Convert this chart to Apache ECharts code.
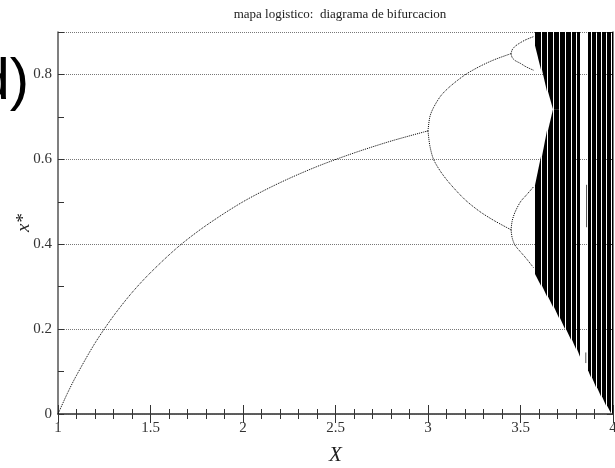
<!DOCTYPE html>
<html>
<head>
<meta charset="utf-8">
<script src="https://cdn.jsdelivr.net/npm/echarts@6/dist/echarts.min.js"></script>
<style>
html,body{margin:0;padding:0;background:#fff}
#main{width:615px;height:468px}
</style>
</head>
<body>
<div id="main"></div>
<script>
// 不动点分支 r 1 -> 3
var fixR = [1, 1.05, 1.1, 1.2, 1.3, 1.4, 1.5, 1.65, 1.8, 2, 2.2, 2.4, 2.6, 2.8, 3]
var fixX = [0, 0.048, 0.091, 0.167, 0.231, 0.286, 0.333, 0.394, 0.444, 0.5, 0.545, 0.583, 0.615, 0.643, 0.667]

// 周期2
var p2R = [3.0, 3.01, 3.03, 3.07, 3.12, 3.2, 3.28, 3.36, 3.449]
var p2Up = [0.667, 0.70, 0.722, 0.75, 0.772, 0.799, 0.819, 0.835, 0.849]
var p2Low = [0.667, 0.632, 0.60, 0.57, 0.542, 0.505, 0.477, 0.455, 0.434]

// 周期4
var p4R = [3.449, 3.455, 3.47, 3.5, 3.53, 3.57]
var p4A = [0.849, 0.858, 0.866, 0.875, 0.882, 0.889]
var p4B = [0.849, 0.840, 0.833, 0.826, 0.818, 0.810]
var p4C = [0.434, 0.455, 0.475, 0.500, 0.515, 0.535]
var p4D = [0.434, 0.415, 0.398, 0.382, 0.367, 0.345]

// 混沌区：竖条边界、下边缘、两带之间的空隙
var chaosEdge = [3.578, 3.616, 3.649, 3.681, 3.714, 3.746, 3.778, 3.805, 3.827, 3.865, 3.886, 3.914, 3.941, 3.968, 3.995, 4.0]
var chaosLow = [0.330, 0.302, 0.277, 0.252, 0.226, 0.200, 0.175, 0.153, 0.135, 0.103, 0.086, 0.063, 0.041, 0.020, 0.002, 0.0]
var gapLow = [0.539, 0.607, 0.668, 0.718, null, null, null, null, null, null, null, null, null, null, null, null]
var gapHigh = [0.868, 0.811, 0.760, 0.718, null, null, null, null, null, null, null, null, null, null, null, null]
var chaosOn = [1, 1, 1, 1, 1, 1, 1, 1, 0, 1, 1, 1, 1, 1, 1]

// 周期3窗口里的点
var win3R = [3.857, 3.853]
var win3Low = [0.44, 0.12]
var win3High = [0.54, 0.145]

var serif = '"Liberation Serif", "DejaVu Serif", serif'

function pairs(xs, ys) {
  return xs.map(function (x, i) { return [x, ys[i]] })
}

function curve(data) {
  return {
    type: 'line',
    data: data,
    showSymbol: false,
    smooth: 0.3,
    silent: true,
    lineStyle: { color: '#000', width: 1, type: 'dotted' },
    z: 3
  }
}

function renderChaos(params, api) {
  var i = api.value(2)
  if (!chaosOn[i]) return
  var r0 = chaosEdge[i], r1 = chaosEdge[i + 1]
  var c = function (r, v) { return api.coord([r, v]) }
  var x0 = Math.round(c(r0, 0)[0])
  var x1 = Math.round(c(r1, 0)[0]) - 1
  if (i === chaosOn.length - 1) x1 += 1
  var yTop = c(r0, 0.9)[1]
  var yl0 = c(r0, chaosLow[i])[1], yl1 = c(r1, chaosLow[i + 1])[1]
  var kids = []
  if (gapLow[i] != null) {
    var gl1 = gapLow[i + 1] != null ? gapLow[i + 1] : 0.718
    var gh1 = gapHigh[i + 1] != null ? gapHigh[i + 1] : 0.718
    kids.push({ type: 'polygon', shape: { points: [[x0, yl0], [x1, yl1], [x1, c(r1, gl1)[1]], [x0, c(r0, gapLow[i])[1]]] }, style: { fill: '#000' } })
    kids.push({ type: 'polygon', shape: { points: [[x0, c(r0, gapHigh[i])[1]], [x1, c(r1, gh1)[1]], [x1, yTop], [x0, yTop]] }, style: { fill: '#000' } })
  } else {
    kids.push({ type: 'polygon', shape: { points: [[x0, yl0], [x1, yl1], [x1, yTop], [x0, yTop]] }, style: { fill: '#000' } })
  }
  return { type: 'group', children: kids }
}

function renderWin(params, api) {
  var a = api.coord([api.value(0), api.value(1)])
  var b = api.coord([api.value(0), api.value(2)])
  return { type: 'line', shape: { x1: a[0], y1: a[1], x2: b[0], y2: b[1] }, style: { stroke: '#555', lineWidth: 1 } }
}

var chart = echarts.init(document.getElementById('main'))

var tickStyle = { color: '#333', width: 1 }
var axisLineStyle = { color: '#555', width: 1.5 }

var option = {
  animation: false,
  backgroundColor: '#fff',
  title: {
    text: 'mapa logistico:  diagrama de bifurcacion',
    left: 335,
    top: 3,
    textAlign: 'center',
    textStyle: { fontFamily: serif, fontSize: 13, fontWeight: 'normal', color: '#222' }
  },
  graphic: [{
    type: 'text',
    x: 29,
    y: 54,
    style: { text: 'd)', font: '58px "Liberation Sans", Arial, sans-serif', fill: '#000', align: 'right', verticalAlign: 'top' }
  }],
  grid: { left: 58, right: 2, top: 32, bottom: 54, outerBoundsMode: 'none' },
  xAxis: [{
    type: 'value', min: 1, max: 4, interval: 0.5, position: 'bottom',
    axisLine: { show: true, lineStyle: axisLineStyle },
    axisTick: { inside: true, length: 9, lineStyle: tickStyle },
    minorTick: { show: true, splitNumber: 5, length: 5, lineStyle: tickStyle },
    splitLine: { show: false },
    axisLabel: { fontFamily: serif, fontSize: 15, color: '#333', margin: 7 },
    name: 'X', nameLocation: 'middle', nameGap: 31, nameMoveOverlap: false,
    nameTextStyle: { fontFamily: serif, fontStyle: 'italic', fontSize: 21, color: '#222' }
  }, {
    type: 'value', min: 1, max: 4, interval: 0.5, position: 'top',
    axisLine: { show: true, lineStyle: axisLineStyle },
    axisTick: { inside: true, length: 9, lineStyle: tickStyle },
    minorTick: { show: true, splitNumber: 5, length: 5, lineStyle: tickStyle },
    splitLine: { show: false },
    axisLabel: { show: false }
  }],
  yAxis: [{
    type: 'value', min: 0, max: 0.9, interval: 0.1, position: 'left',
    axisLine: { show: true, lineStyle: axisLineStyle },
    axisTick: { inside: true, length: 6, lineStyle: tickStyle },
    splitLine: { show: false },
    axisLabel: {
      fontFamily: serif, fontSize: 15, color: '#333', margin: 6,
      formatter: function (v) {
        var k = Math.round(v * 10)
        if (k % 2) return ''
        return k === 0 ? '0' : (k / 10).toFixed(1)
      }
    },
    name: 'x*', nameLocation: 'middle', nameGap: 25, nameRotate: 90, nameMoveOverlap: false,
    nameTextStyle: { fontFamily: serif, fontStyle: 'italic', fontSize: 19, color: '#222' }
  }, {
    type: 'value', min: 0, max: 0.9, interval: 0.2, position: 'right',
    axisLine: { show: true, lineStyle: axisLineStyle },
    axisTick: { inside: true, length: 6, lineStyle: tickStyle },
    axisLabel: { show: false },
    splitLine: { show: true, lineStyle: { color: '#777', width: 1, type: 'dotted' } }
  }],
  series: [
    curve(pairs(fixR, fixX)),
    curve(pairs(p2R, p2Up)),
    curve(pairs(p2R, p2Low)),
    curve(pairs(p4R, p4A)),
    curve(pairs(p4R, p4B)),
    curve(pairs(p4R, p4C)),
    curve(pairs(p4R, p4D)),
    {
      type: 'custom',
      renderItem: renderChaos,
      data: chaosOn.map(function (on, i) { return [chaosEdge[i], 0.5, i] }),
      encode: { x: 0, y: 1 },
      clip: true,
      silent: true,
      z: 4
    },
    {
      type: 'custom',
      renderItem: renderWin,
      data: win3R.map(function (r, i) { return [r, win3Low[i], win3High[i]] }),
      encode: { x: 0, y: [1, 2] },
      silent: true,
      z: 4
    }
  ]
}

chart.setOption(option)
</script>
</body>
</html>
